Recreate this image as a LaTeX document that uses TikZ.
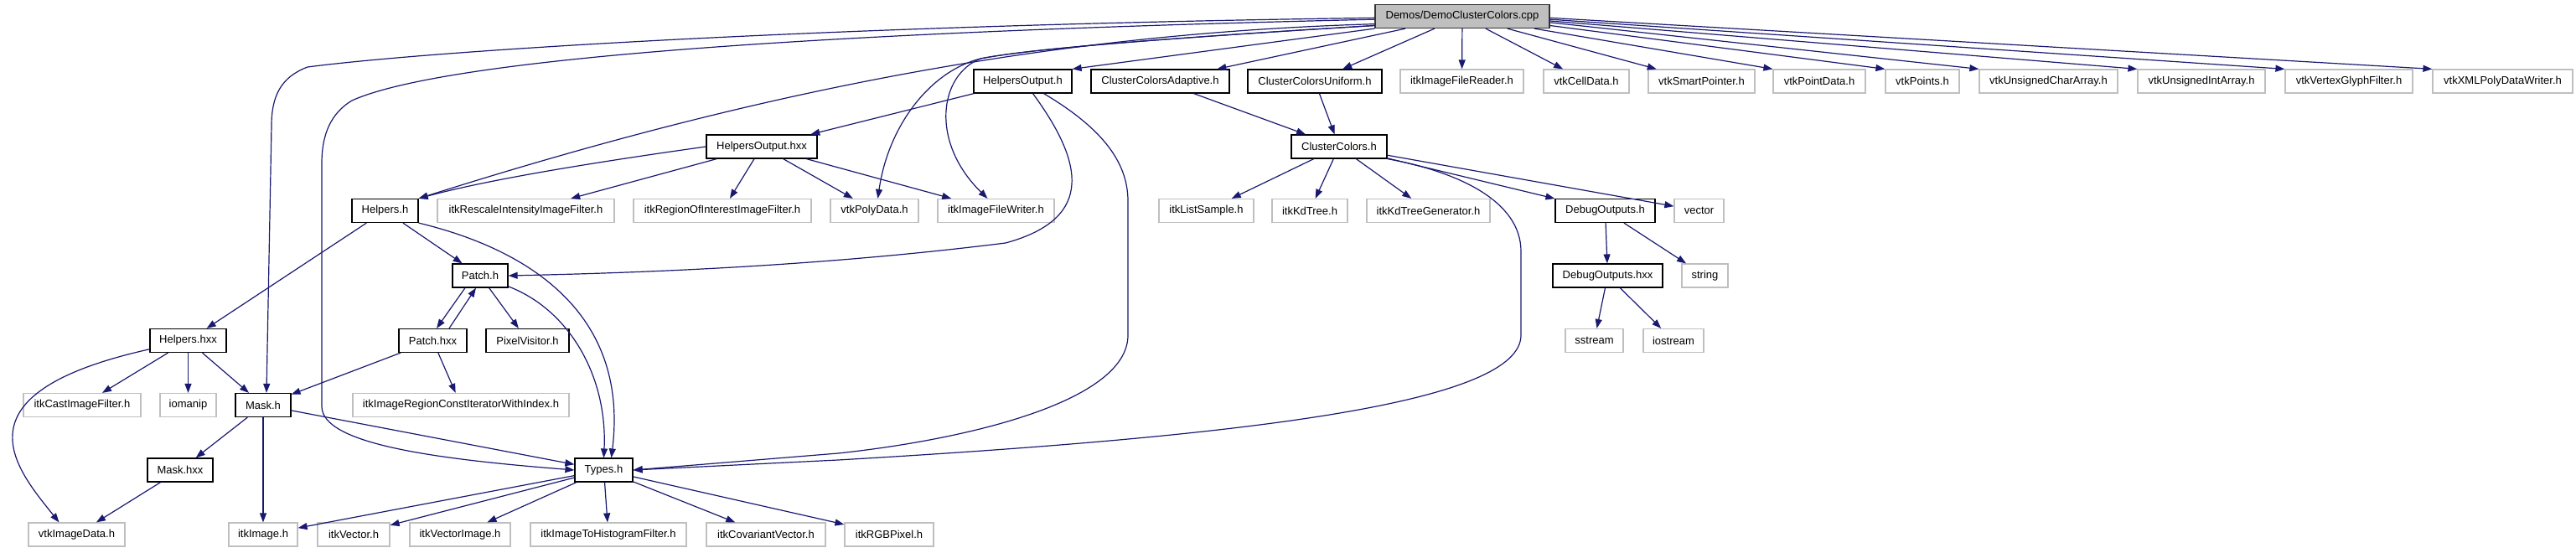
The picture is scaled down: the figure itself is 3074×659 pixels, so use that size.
\documentclass[tikz,border=0pt]{standalone}
\usepackage{fontspec}
\setmainfont{Liberation Sans}
\usetikzlibrary{arrows.meta,calc}
\definecolor{edgeblue}{HTML}{191970}
\definecolor{boxgray}{HTML}{BFBFBF}
\definecolor{rootfill}{HTML}{BFBFBF}
\begin{document}
\begin{tikzpicture}[x=1pt,y=-1pt,
  doc/.style={draw=black, line width=1.2pt, minimum height=28pt, inner sep=0pt,
    font=\fontsize{13}{15}\selectfont, anchor=center},
  ext/.style={doc, draw=boxgray},
  root/.style={doc, fill=rootfill, draw=black!80},
  dep/.style={draw=edgeblue, line width=1.2pt, -{Triangle[length=11pt,width=8pt]}}]
\useasboundingbox (0,0) rectangle (3074,659);

% row 0
\node[root, minimum width=208pt] (demo) at (1745,19.5) {Demos/DemoClusterColors.cpp};
% row 1
\node[doc, minimum width=117pt] (hoh) at (1220.5,97) {HelpersOutput.h};
\node[doc, minimum width=165pt] (cca) at (1384.5,97) {ClusterColorsAdaptive.h};
\node[doc, minimum width=160pt] (ccu) at (1569,97) {ClusterColorsUniform.h};
\node[ext, minimum width=147pt] (ifr) at (1744.5,97) {itkImageFileReader.h};
\node[ext, minimum width=102pt] (vcd) at (1893,97) {vtkCellData.h};
\node[ext, minimum width=127pt] (vsp) at (2030.5,97) {vtkSmartPointer.h};
\node[ext, minimum width=110pt] (vpd) at (2171,97) {vtkPointData.h};
\node[ext, minimum width=88pt] (vpts) at (2294,97) {vtkPoints.h};
\node[ext, minimum width=165pt] (vuca) at (2444.5,97) {vtkUnsignedCharArray.h};
\node[ext, minimum width=152pt] (vuia) at (2627,97) {vtkUnsignedIntArray.h};
\node[ext, minimum width=152pt] (vvgf) at (2803,97) {vtkVertexGlyphFilter.h};
\node[ext, minimum width=167pt] (vxml) at (2986.5,97) {vtkXMLPolyDataWriter.h};
% row 2
\node[doc, minimum width=132pt] (hohxx) at (909,175) {HelpersOutput.hxx};
\node[doc, minimum width=114pt] (cc) at (1598,175) {ClusterColors.h};
% row 3
\node[doc, minimum width=79pt] (hh) at (459.5,251.5) {Helpers.h};
\node[ext, minimum width=211pt] (rescale) at (627.5,251.5) {itkRescaleIntensityImageFilter.h};
\node[ext, minimum width=212pt] (roi) at (862,251.5) {itkRegionOfInterestImageFilter.h};
\node[ext, minimum width=105pt] (vpoly) at (1043.5,251.5) {vtkPolyData.h};
\node[ext, minimum width=139pt] (ifw) at (1188.5,251.5) {itkImageFileWriter.h};
\node[ext, minimum width=113pt] (ls) at (1439.5,251.5) {itkListSample.h};
\node[ext, minimum width=90pt] (kd) at (1563,251.5) {itkKdTree.h};
\node[ext, minimum width=147pt] (kdg) at (1704.5,251.5) {itkKdTreeGenerator.h};
\node[doc, minimum width=119pt] (dbg) at (1915.5,251.5) {DebugOutputs.h};
\node[ext, minimum width=59pt] (vec) at (2027.5,251.5) {vector};
% row 4
\node[doc, minimum width=66pt] (patch) at (573,329) {Patch.h};
\node[doc, minimum width=131pt] (dbgx) at (1918.5,329) {DebugOutputs.hxx};
\node[ext, minimum width=55pt] (str) at (2034.5,329) {string};
% row 5
\node[doc, minimum width=91pt] (hxx) at (224.5,406.5) {Helpers.hxx};
\node[doc, minimum width=81pt] (patchx) at (516.5,406.5) {Patch.hxx};
\node[doc, minimum width=99pt] (pv) at (629.5,406.5) {PixelVisitor.h};
\node[ext, minimum width=69pt] (sst) at (1902.5,406.5) {sstream};
\node[ext, minimum width=72pt] (ios) at (1997,406.5) {iostream};
% row 6
\node[ext, minimum width=140pt] (cast) at (98,483.5) {itkCastImageFilter.h};
\node[ext, minimum width=67pt] (iom) at (224.5,483.5) {iomanip};
\node[doc, minimum width=66pt] (mask) at (314,483.5) {Mask.h};
\node[ext, minimum width=258pt] (iter) at (550,483.5) {itkImageRegionConstIteratorWithIndex.h};
% row 7
\node[doc, minimum width=78pt] (maskx) at (215,561) {Mask.hxx};
\node[doc, minimum width=69pt] (types) at (720.5,561) {Types.h};
% row 8
\node[ext, minimum width=115pt] (vid) at (91.5,638) {vtkImageData.h};
\node[ext, minimum width=82pt] (img) at (314,638) {itkImage.h};
\node[ext, minimum width=86pt] (ivec) at (422,638) {itkVector.h};
\node[ext, minimum width=120pt] (ivi) at (549,638) {itkVectorImage.h};
\node[ext, minimum width=186pt] (hist) at (726,638) {itkImageToHistogramFilter.h};
\node[ext, minimum width=142pt] (cov) at (914,638) {itkCovariantVector.h};
\node[ext, minimum width=106pt] (rgb) at (1061,638) {itkRGBPixel.h};

% edges from the root
\draw[dep] (demo.south west) -- (hoh.north east);
\draw[dep] (demo) -- (cca);
\draw[dep] (demo) -- (ccu);
\draw[dep] (demo) -- (ifr);
\draw[dep] (demo) -- (vcd);
\draw[dep] (demo) -- (vsp);
\draw[dep] (demo) -- (vpd.north west);
\draw[dep] (demo.-6) -- (vpts.north west);
\draw[dep] (demo.-4.5) -- (vuca.north west);
\draw[dep] (demo.-3.5) -- (vuia.north west);
\draw[dep] (demo.-2.3) -- (vvgf.north west);
\draw[dep] (demo.-1.2) -- (vxml.north west);
\draw[dep] (demo.185) .. controls (1250,40) and (900,110) .. (hh.north east);
\draw[dep] (demo.181) .. controls (1000,30) and (520,60) .. (367,80)
  .. controls (335,92) and (324,115) .. (324,150) -- ($(mask.north)+(4,0)$);
\draw[dep] (demo.182.5) .. controls (900,40) and (520,75) .. (420,120)
  .. controls (395,135) and (384,160) .. (384,195) -- (384,485)
  .. controls (384,530) and (520,548) .. (types.west);
\draw[dep] (demo.186) .. controls (1400,45) and (1230,58) .. (1170,70)
  .. controls (1110,85) and (1060,150) .. ($(vpoly.north)+(4,0)$);
\draw[dep] (demo.186) .. controls (1400,45) and (1230,58) .. (1170,70)
  .. controls (1120,90) and (1110,170) .. ($(ifw.north)+(-10,0)$);

% HelpersOutput.h
\draw[dep] (hoh) -- (hohxx);
\draw[dep] ($(hoh.south)+(12,0)$) .. controls (1290,190) and (1310,260) .. (1200,290)
  .. controls (1000,315) and (800,325) .. (patch.east);
\draw[dep] ($(hoh.south)+(25,0)$) .. controls (1310,150) and (1346,190) .. (1346,240)
  -- (1346,400) .. controls (1346,480) and (1150,525) .. (1000,541) -- (types.east);

% HelpersOutput.hxx
\draw[dep] (hohxx.west) .. controls (700,195) and (580,215) .. (hh.north east);
\draw[dep] (hohxx) -- (rescale);
\draw[dep] (hohxx) -- (roi);
\draw[dep] (hohxx) -- (vpoly);
\draw[dep] (hohxx) -- (ifw);

% ClusterColors
\draw[dep] (cca) -- (cc);
\draw[dep] (ccu) -- (cc);
\draw[dep] (cc) -- (ls);
\draw[dep] (cc) -- (kd);
\draw[dep] (cc) -- (kdg);
\draw[dep] (cc) -- (dbg);
\draw[dep] (cc) -- (vec);
\draw[dep] (cc.south east) .. controls (1740,205) and (1815,240) .. (1815,300) -- (1815,400)
  .. controls (1815,480) and (1500,520) .. (1000,549) -- (types.east);
\draw[dep] (dbg) -- (dbgx);
\draw[dep] (dbg) -- (str);
\draw[dep] (dbgx) -- (sst);
\draw[dep] (dbgx) -- (ios);

% Helpers.h
\draw[dep] (hh) -- (hxx);
\draw[dep] (hh) -- (patch);
\draw[dep] (hh.south east) .. controls (640,300) and (750,380) .. ($(types.north)+(9,0)$);

% Patch
\draw[dep] ($(patch.south)+(-18,0)$) -- ($(patchx.north)+(4.5,0)$);
\draw[dep] ($(patchx.north)+(19.5,0)$) -- ($(patch.south)+(-5,0)$);
\draw[dep] (patch) -- (pv);
\draw[dep] (patch) .. controls (680,370) and (725,450) .. (types.north);
\draw[dep] (patchx) -- (mask);
\draw[dep] (patchx) -- (iter);

% Helpers.hxx
\draw[dep] (hxx) .. controls (-60,470) and (20,560) .. ($(vid.north)+(-21,0)$);
\draw[dep] (hxx) -- (cast);
\draw[dep] (hxx) -- (iom);
\draw[dep] (hxx) -- (mask);

% Mask
\draw[dep] (mask) -- (maskx);
\draw[dep] (mask) -- (img);
\draw[dep] (mask) -- (types);
\draw[dep] (maskx) -- (vid);

% Types.h
\draw[dep] (types) -- (img);
\draw[dep] (types) -- (ivec);
\draw[dep] (types) -- (ivi);
\draw[dep] (types) -- (hist);
\draw[dep] (types) -- (cov);
\draw[dep] (types) -- (rgb);
\end{tikzpicture}
\end{document}
